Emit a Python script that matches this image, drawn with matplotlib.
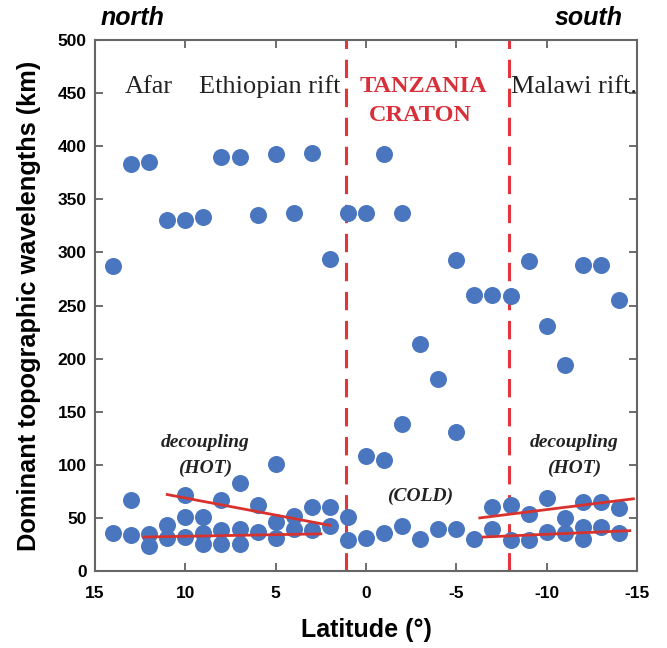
import numpy as np
from matplotlib import pyplot as plt

plt.rcParams['axes.unicode_minus'] = False

# latitude (deg) and dominant wavelength (km) of each spot
lat = [14, 13, 12, 11, 10, 9, 8, 7, 6, 5, 4, 3, 2, 1, 0, -1, -2,
       -5, -6, -7, -8, -9, -12, -13, -14,
       -10, -3, -11, -4, -2, -5, 0, -1, 5, 7,
       14, 13, 13, 12, 12, 11, 11, 10, 10, 10, 9, 9, 9, 8, 8, 8, 7, 7,
       6, 6, 5, 5, 4, 4, 3, 3, 2, 2, 1, 1, 0, -1, -2, -3, -4, -5, -6,
       -7, -7, -8, -8, -9, -9, -10, -10, -11, -11, -12, -12, -12,
       -13, -13, -14, -14]
wavelength = [287, 383, 385, 331, 331, 333, 390, 390, 335, 393, 337, 394, 294, 337, 337, 393, 337,
              293, 260, 260, 259, 292, 288, 288, 255,
              231, 214, 194, 181, 138, 131, 108, 105, 101, 83,
              36, 67, 34, 35, 24, 43, 31, 72, 51, 32, 51, 36, 25, 67, 39, 25, 40, 25,
              62, 37, 46, 31, 52, 40, 60, 39, 60, 42, 51, 29, 31, 36, 42, 30, 40, 40, 30,
              60, 40, 62, 29, 54, 29, 69, 37, 50, 36, 65, 41, 30,
              65, 41, 59, 36]

# red trend lines: (lat start, lat end, km start, km end)
trends = [(11.0, 2.0, 72, 43),
          (12.3, 2.5, 32, 35),
          (-6.3, -14.8, 50, 68),
          (-6.5, -14.6, 32, 38)]

boundaries = [1.1, -7.9]

fig = plt.figure(figsize=(6.67, 6.48), dpi=100)
ax = fig.add_axes([0.1424, 0.1188, 0.8126, 0.8194])

ax.scatter(lat, wavelength, s=150, color='#4a76c0', zorder=3, linewidths=0)

for x0, x1, y0, y1 in trends:
    ax.plot([x0, x1], [y0, y1], color='#d8322e', lw=2, zorder=4)

for b in boundaries:
    ax.axvline(b, color='#e2353c', lw=2.2, dashes=(6, 3.5), zorder=2)

ax.set_xlim(15, -15)
ax.set_ylim(0, 500)
ax.set_xticks(np.arange(15, -16, -5))
ax.set_yticks(np.arange(0, 501, 50))
ax.tick_params(direction='in', top=True, right=True, length=6, width=1.2,
               labelsize=12.5, color='#555555')
ax.tick_params(axis='x', pad=11)
ax.tick_params(axis='y', pad=6)
for lbl in ax.get_xticklabels() + ax.get_yticklabels():
    lbl.set_fontweight('bold')
    lbl.set_family('Liberation Sans')
for sp in ax.spines.values():
    sp.set_color('#666666')
    sp.set_linewidth(1.5)

ax.set_xlabel('Latitude (°)', fontsize=18, fontweight='bold', family='Liberation Sans', labelpad=12)
ax.set_ylabel('Dominant topographic wavelengths (km)', fontsize=18.3, fontweight='bold',
              family='Liberation Sans', labelpad=12)

serif = 'Liberation Serif'
ax.text(12.0, 456, 'Afar', fontsize=19, family=serif, ha='center', va='center', color='#222222')
ax.text(5.3, 456, 'Ethiopian rift', fontsize=19, family=serif, ha='center', va='center', color='#222222')
ax.text(-3.2, 456, 'TANZANIA', fontsize=17.5, family=serif, fontweight='bold', ha='center',
        va='center', color='#d8303a')
ax.text(-3.0, 429, 'CRATON', fontsize=17.5, family=serif, fontweight='bold', ha='center',
        va='center', color='#d8303a')
ax.text(-11.5, 456, 'Malawi rift.', fontsize=19, family=serif, ha='center', va='center', color='#222222')

for x in [8.9, -11.5]:
    ax.text(x, 121, 'decoupling', fontsize=14, family=serif, fontweight='bold', style='italic',
            ha='center', va='center', color='#222222')
    ax.text(x, 97, '(HOT)', fontsize=14, family=serif, fontweight='bold', style='italic',
            ha='center', va='center', color='#222222')
ax.text(-3.0, 70, '(COLD)', fontsize=14, family=serif, fontweight='bold', style='italic',
        ha='center', va='center', color='#222222')

fig.text(133 / 667, 1 - 18 / 648, 'north', fontsize=18, fontweight='bold', style='italic',
         family='Liberation Sans', ha='center', va='center')
fig.text(589 / 667, 1 - 18 / 648, 'south', fontsize=18, fontweight='bold', style='italic',
         family='Liberation Sans', ha='center', va='center')

plt.savefig('out.png', dpi=100)
plt.close()
